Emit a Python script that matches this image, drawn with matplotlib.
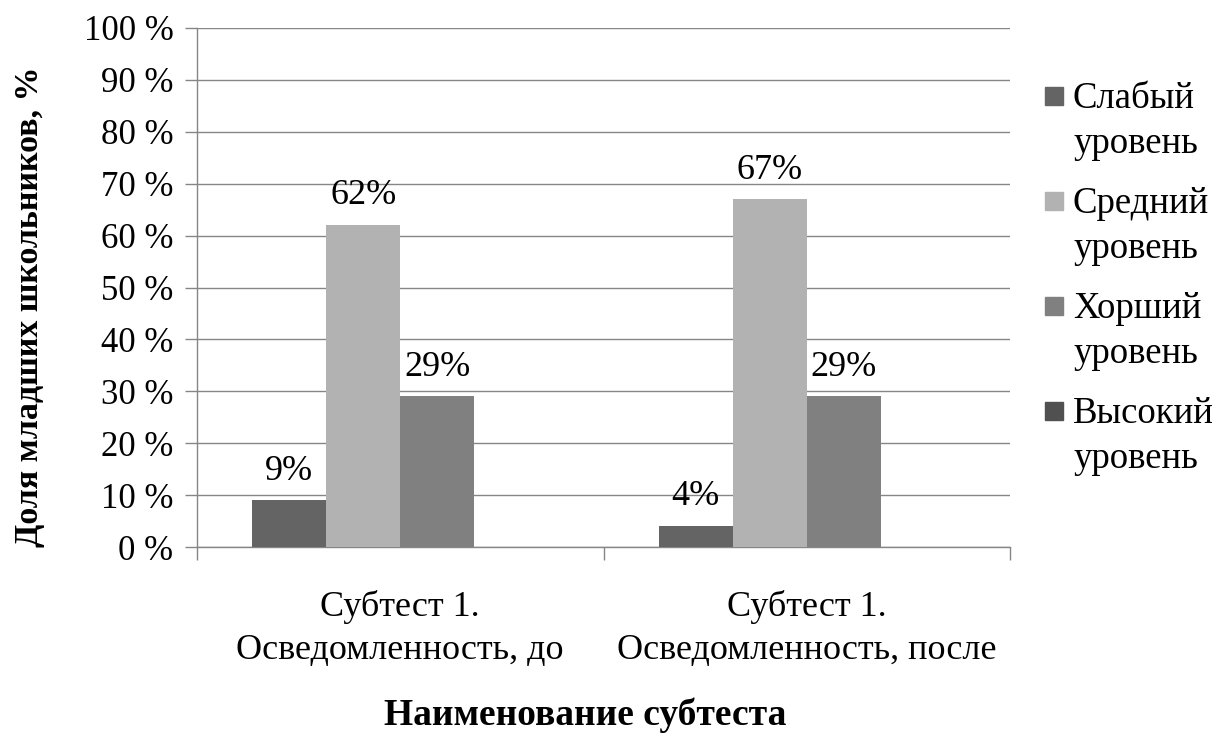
import matplotlib
matplotlib.use("Agg")
import matplotlib.pyplot as plt
import numpy as np
from matplotlib.patches import Rectangle
from matplotlib.ticker import FixedLocator, FuncFormatter

plt.rcParams['font.family'] = ['Liberation Serif', 'DejaVu Serif']

categories = ["Субтест 1.\nОсведомленность, до", "Субтест 1.\nОсведомленность, после"]
series_names = ["Слабый\nуровень", "Средний\nуровень", "Хорший\nуровень", "Высокий\nуровень"]
series_values = [
    [9, 4],
    [62, 67],
    [29, 29],
    [0, 0],
]
series_colors = ["#646464", "#b2b2b2", "#808080", "#505050"]
y_ticks = list(range(0, 101, 10))

W, H = 1219, 735
fig = plt.figure(figsize=(W / 100, H / 100), dpi=100)
ax = fig.add_axes([197 / W, 1 - 547 / H, (1010 - 197) / W, (547 - 28) / H])

x = np.arange(len(categories))
n = len(series_names)
width = 0.182
grid_color = "#868686"

for i, (name, vals, col) in enumerate(zip(series_names, series_values, series_colors)):
    pos = x + (i - (n - 1) / 2) * width
    bars = ax.bar(pos, vals, width=width, color=col, label=name, zorder=3)
    for b, v in zip(bars, vals):
        if v > 0:
            ax.text(b.get_x() + b.get_width() / 2, v + 4.0, f"{v}%",
                    ha="center", va="baseline", fontsize=26, color="#000000")

ax.set_xlim(-0.5, 1.5)
ax.set_ylim(0, 100)
ax.yaxis.set_major_locator(FixedLocator(y_ticks))
ax.yaxis.set_major_formatter(FuncFormatter(lambda v, p: f"{int(v)} %"))
ax.grid(axis="y", color=grid_color, linewidth=1, zorder=0)

ax.set_xticks(x)
ax.set_xticklabels(categories, fontsize=26, linespacing=1.4)
ax.tick_params(axis="x", which="major", length=0, pad=31)
ax.set_xticks([-0.5, 0.5, 1.5], minor=True)
ax.tick_params(axis="x", which="minor", length=9, color=grid_color, width=1)
ax.tick_params(axis="y", length=9, color=grid_color, width=1, labelsize=25, pad=8)

for s in ["top", "right"]:
    ax.spines[s].set_visible(False)
for s in ["left", "bottom"]:
    ax.spines[s].set_color(grid_color)
    ax.spines[s].set_linewidth(1)

# axis titles
fig.text(30 / W, 1 - 307 / H, "Доля младших школьников, %", rotation=90,
         ha="center", va="center", fontsize=24.5, fontweight="bold")
fig.text(585 / W, 1 - 725 / H, "Наименование субтеста",
         ha="center", va="baseline", fontsize=27, fontweight="bold")

# legend: square aligned with the first line of each two-line entry
sq = 18
for i, (name, col) in enumerate(zip(series_names, series_colors)):
    base = 108 + 105 * i
    fig.patches.append(Rectangle((1045 / W, 1 - (base - 3) / H), sq / W, sq / H,
                                 transform=fig.transFigure, color=col, figure=fig))
    first, second = name.split("\n")
    fig.text(1073 / W, 1 - base / H, first, ha="left", va="baseline", fontsize=26.5)
    fig.text(1073 / W, 1 - (base + 45) / H, second, ha="left", va="baseline", fontsize=26.5)

fig.savefig("out.png", dpi=100)
